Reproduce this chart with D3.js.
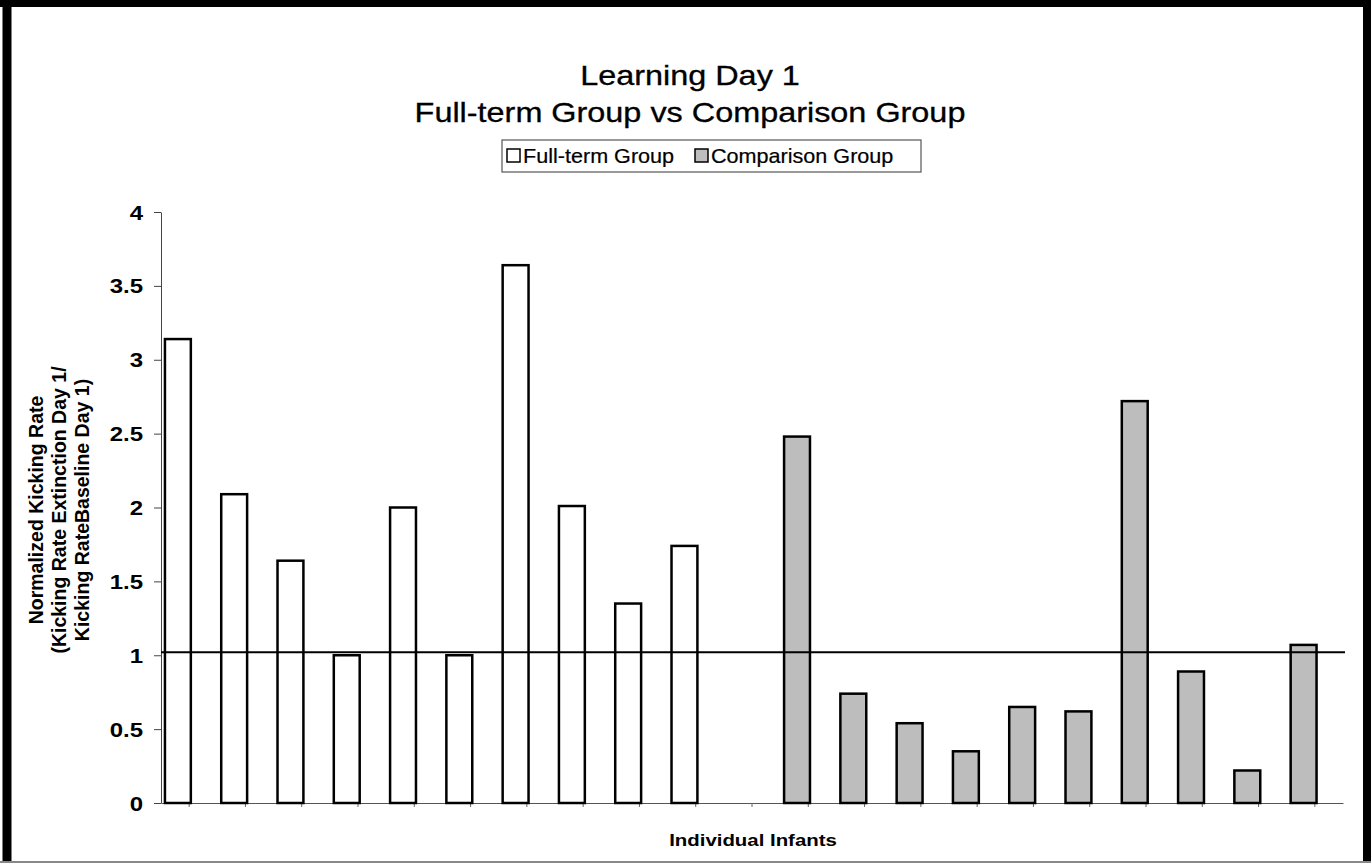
<!DOCTYPE html>
<html>
<head>
<meta charset="utf-8">
<script src="https://cdn.jsdelivr.net/npm/d3@7"></script>
<style>
  body { margin: 0; background: #fff; }
  text { font-family: "Liberation Sans", Arial, sans-serif; fill: #000; }
</style>
</head>
<body>
<div id="chart"></div>
<script>
// data
var infantSlots = ["F1", "F2", "F3", "F4", "F5", "F6", "F7", "F8", "F9", "F10", "gap",
                   "C1", "C2", "C3", "C4", "C5", "C6", "C7", "C8", "C9", "C10"];
var fullTermIds = ["F1", "F2", "F3", "F4", "F5", "F6", "F7", "F8", "F9", "F10"];
var fullTermRates = [3.14, 2.09, 1.64, 1.0, 2.0, 1.0, 3.64, 2.01, 1.35, 1.74];
var comparisonIds = ["C1", "C2", "C3", "C4", "C5", "C6", "C7", "C8", "C9", "C10"];
var comparisonRates = [2.48, 0.74, 0.54, 0.35, 0.65, 0.62, 2.72, 0.89, 0.22, 1.07];
var baselineRate = 1.02;
var yTicks = [0, 0.5, 1, 1.5, 2, 2.5, 3, 3.5, 4];

var titleLines = ["Learning Day 1", "Full-term Group vs Comparison Group"];
var legendLabels = ["Full-term Group", "Comparison Group"];
var yTitleLines = ["Normalized Kicking Rate", "(Kicking Rate Extinction Day 1/", "Kicking RateBaseline Day 1)"];
var xTitle = "Individual Infants";

// the scan is a little wider than tall, so text gets the same horizontal stretch
var SX = 1.2;

var svgWidth = 1371, svgHeight = 863;
var plot = { left: 161, right: 1343, top: 212, bottom: 803 };
var grayFill = '#bdbdbd';

var svg = d3.select('#chart').append('svg')
  .attr('width', svgWidth)
  .attr('height', svgHeight);

// frame
svg.append('line')
  .attr('x1', 0).attr('x2', svgWidth).attr('y1', 3.5).attr('y2', 3.5)
  .attr('stroke', '#000').attr('stroke-width', 7);
svg.append('line')
  .attr('x1', 7).attr('x2', 7).attr('y1', 0).attr('y2', svgHeight)
  .attr('stroke', '#000').attr('stroke-width', 9);
svg.append('line')
  .attr('x1', 1367).attr('x2', 1367).attr('y1', 0).attr('y2', svgHeight)
  .attr('stroke', '#000').attr('stroke-width', 8);
svg.append('line')
  .attr('x1', 0).attr('x2', svgWidth).attr('y1', 862).attr('y2', 862)
  .attr('stroke', '#888').attr('stroke-width', 2);

function stretched(sel, x, y, sx) {
  return sel.attr('transform', 'translate(' + x + ',' + y + ') scale(' + (sx || SX) + ',1)');
}

// title
var titleBase = [85, 122];
titleLines.forEach(function(t, i) {
  stretched(svg.append('text'), 690, titleBase[i])
    .attr('text-anchor', 'middle')
    .attr('font-size', 27)
    .attr('stroke', '#000').attr('stroke-width', 0.3)
    .text(t);
});

// legend
var legend = svg.append('g');
legend.append('rect')
  .attr('x', 502).attr('y', 140).attr('width', 419).attr('height', 32)
  .attr('fill', '#fff').attr('stroke', '#555').attr('stroke-width', 1.2);
var legendX = [507, 695];
var legendFill = ['#fff', grayFill];
legendLabels.forEach(function(l, i) {
  legend.append('rect')
    .attr('x', legendX[i]).attr('y', 149).attr('width', 13).attr('height', 13)
    .attr('fill', legendFill[i]).attr('stroke', '#000').attr('stroke-width', 1.5);
  stretched(legend.append('text'), legendX[i] + 16, 163, 1.08)
    .attr('font-size', 20)
    .attr('stroke', '#000').attr('stroke-width', 0.2)
    .text(l);
});

// scales
var x = d3.scaleBand()
  .domain(infantSlots)
  .range([plot.left, plot.right])
  .padding(0);

var y = d3.scaleLinear()
  .domain([0, 4])
  .range([plot.bottom, plot.top]);

var barW = x.bandwidth() * 0.46;
var barOff = x.bandwidth() * 0.07;

// axes
var yAxis = svg.append('g')
  .attr('transform', 'translate(' + plot.left + ',0)')
  .call(d3.axisLeft(y).tickValues(yTicks).tickSize(7).tickSizeOuter(0).tickFormat(function(d) { return String(d); }));
yAxis.select('.domain').attr('stroke', '#444').attr('stroke-width', 1);
yAxis.selectAll('.tick line').attr('stroke', '#444');
yAxis.selectAll('.tick text')
  .attr('x', -18 / SX)
  .attr('dy', '0.35em')
  .attr('transform', 'scale(' + SX + ',1)')
  .attr('font-size', 20)
  .attr('font-weight', 'bold')
  .attr('font-family', '"Liberation Sans", Arial, sans-serif')
  .attr('fill', '#000');

var xAxis = svg.append('g')
  .attr('transform', 'translate(0,' + plot.bottom + ')')
  .call(d3.axisBottom(x).tickSize(4).tickSizeOuter(0).tickFormat(''));
xAxis.select('.domain').attr('stroke', '#555').attr('stroke-width', 1.2);
xAxis.selectAll('.tick line').attr('stroke', '#666').attr('stroke-width', 1);

// bars
var full = fullTermIds.map(function(id, i) { return { id: id, v: fullTermRates[i] }; });
var comp = comparisonIds.map(function(id, i) { return { id: id, v: comparisonRates[i] }; });

svg.append('g').selectAll('rect')
  .data(full)
  .enter().append('rect')
  .attr('x', function(d) { return x(d.id) + barOff; })
  .attr('y', function(d) { return y(d.v); })
  .attr('width', barW)
  .attr('height', function(d) { return y(0) - y(d.v); })
  .attr('fill', '#fff')
  .attr('stroke', '#000')
  .attr('stroke-width', 2.5);

svg.append('g').selectAll('rect')
  .data(comp)
  .enter().append('rect')
  .attr('x', function(d) { return x(d.id) + barOff; })
  .attr('y', function(d) { return y(d.v); })
  .attr('width', barW)
  .attr('height', function(d) { return y(0) - y(d.v); })
  .attr('fill', grayFill)
  .attr('stroke', '#000')
  .attr('stroke-width', 2.5);

// baseline rate of 1
svg.append('line')
  .attr('x1', plot.left).attr('x2', plot.right + 2)
  .attr('y1', y(baselineRate)).attr('y2', y(baselineRate))
  .attr('stroke', '#000').attr('stroke-width', 2);

// axis titles
var yTitleX = [43, 66, 89];
yTitleLines.forEach(function(t, i) {
  svg.append('text')
    .attr('transform', 'translate(' + yTitleX[i] + ',510) rotate(-90)')
    .attr('text-anchor', 'middle')
    .attr('font-size', 19.5)
    .attr('font-weight', 'bold')
    .text(t);
});

stretched(svg.append('text'), 753, 846)
  .attr('text-anchor', 'middle')
  .attr('font-size', 17)
  .attr('font-weight', 'bold')
  .text(xTitle);
</script>
</body>
</html>
